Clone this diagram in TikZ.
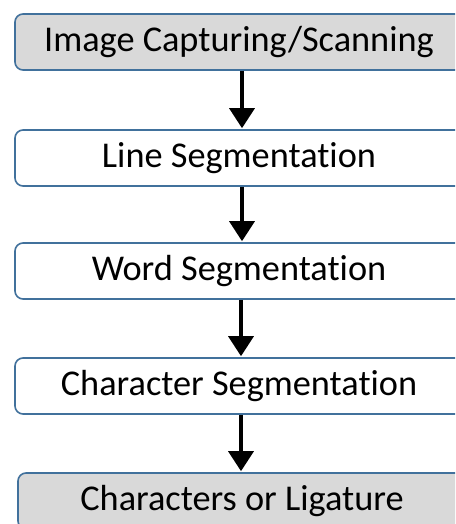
\documentclass[tikz,border=0pt]{standalone}
\usepackage{fontspec}
\setmainfont{Carlito}[Ligatures=NoCommon]
\usetikzlibrary{arrows.meta}
\definecolor{boxblue}{HTML}{41719C}
\definecolor{boxgray}{HTML}{D9D9D9}
\tikzset{
  stagebox/.style={draw=boxblue, line width=1.6pt, rounded corners=8pt, minimum width=448pt, minimum height=56pt, font=\fontsize{36.3}{40}\selectfont, inner sep=0pt},
  graybox/.style={stagebox, fill=boxgray},
  whitebox/.style={stagebox, fill=white},
  flow/.style={line width=3.5pt, -{Triangle[length=20pt,width=25pt]}, shorten >=1pt}
}
\begin{document}
\begin{tikzpicture}[x=1pt,y=-1pt]
\useasboundingbox (0,0) rectangle (455,524);
\clip (0,0) rectangle (455,524);
\fill[white] (0,0) rectangle (455,524);
\node[graybox]  (n1) at (239,42)  {Image Capturing/Scanning};
\node[whitebox] (n2) at (239,158) {Line Segmentation};
\node[whitebox] (n3) at (239,271) {Word Segmentation};
\node[whitebox] (n4) at (239,386) {Character Segmentation};
\node[graybox]  (n5) at (242,501) {Characters or Ligature};
\draw[flow] (n1.south -| 242,0) -- (n2.north -| 242,0);
\draw[flow] (n2.south -| 242,0) -- (n3.north -| 242,0);
\draw[flow] (n3.south -| 241,0) -- (n4.north -| 241,0);
\draw[flow] (n4.south -| 241,0) -- (n5.north -| 241,0);
\end{tikzpicture}
\end{document}
